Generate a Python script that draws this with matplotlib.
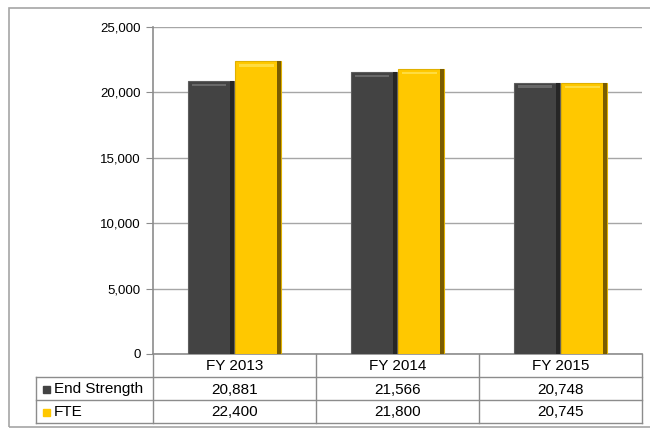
import numpy as np
import matplotlib.pyplot as plt
import matplotlib.transforms as mtransforms
from matplotlib.patches import Rectangle

plt.rcParams['font.family'] = ['Liberation Sans', 'DejaVu Sans']

# data
categories = ['FY 2013', 'FY 2014', 'FY 2015']
series_names = ['End Strength', 'FTE']
end_strength = [20881, 21566, 20748]
fte = [22400, 21800, 20745]
table_text = [['20,881', '21,566', '20,748'],
              ['22,400', '21,800', '20,745']]

dark = '#434343'
gold = '#FFC800'
line_col = '#8c8c8c'

W, H = 650, 428
fig = plt.figure(figsize=(W / 100, H / 100), dpi=100)
fig.patch.set_facecolor('white')
# outer frame
fig.patches.append(Rectangle((9 / W, 1 - 427 / H), 1, 419 / H, transform=fig.transFigure,
                             fill=False, edgecolor='#a6a6a6', lw=1.2))

ax = fig.add_axes([153 / W, 1 - 354 / H, (642 - 153) / W, (354 - 27) / H])

x = np.arange(len(categories))
bw = 0.28
off = 0.145
ax.bar(x - off, end_strength, bw, color=dark, edgecolor='#5e5e5e', lw=0.8, zorder=3)
ax.bar(x + off, fte, bw, color=gold, edgecolor='#e0b000', lw=0.8, zorder=3)
# bevel: dark right edge and a light band near the top
ax.bar(x - off + bw / 2 - 0.012, end_strength, 0.024, color='#262626', lw=0, zorder=4)
ax.bar(x + off + bw / 2 - 0.012, fte, 0.024, color='#7a5c00', lw=0, zorder=4)
ax.bar(x - off - 0.01, [200] * 3, bw - 0.07,
       bottom=[v - 420 for v in end_strength], color='#686868', lw=0, zorder=4)
ax.bar(x + off - 0.01, [200] * 3, bw - 0.07,
       bottom=[v - 420 for v in fte], color='#ffdc40', lw=0, zorder=4)

ax.set_xlim(-0.5, 2.5)
ax.set_ylim(0, 25000)
ax.set_yticks(np.arange(0, 25001, 5000))
ax.set_yticklabels([f'{v:,}' for v in range(0, 25001, 5000)])
ax.set_xticks([])
ax.yaxis.grid(True, color='#a6a6a6', lw=1)
ax.set_axisbelow(True)
for s in ['top', 'right']:
    ax.spines[s].set_visible(False)
for s in ['left', 'bottom']:
    ax.spines[s].set_color(line_col)
    ax.spines[s].set_linewidth(1.2)
ax.tick_params(axis='y', length=5, color=line_col, labelsize=9.5, pad=4)

# data table under the chart
tr = mtransforms.blended_transform_factory(ax.transData, ax.transAxes)
ph = 354 - 27
def yf(py):
    return (354 - py) / ph
def xd(px):
    return -0.5 + (px - 153) / 163.0

lk = dict(transform=tr, color=line_col, lw=1, clip_on=False)
for py in [377, 400, 423]:
    ax.plot([xd(36), 2.5], [yf(py), yf(py)], **lk)
ax.plot([xd(36), xd(36)], [yf(377), yf(423)], **lk)
for xb in [-0.5, 0.5, 1.5, 2.5]:
    ax.plot([xb, xb], [0, yf(423)], **lk)

fs = 11
for i, c in enumerate(categories):
    ax.text(i, yf(366.5), c, transform=tr, ha='center', va='center', fontsize=fs)
    for r in range(2):
        ax.text(i, yf(389.5 + 23 * r), table_text[r][i], transform=tr,
                ha='center', va='center', fontsize=fs)

for r, (name, col) in enumerate(zip(series_names, [dark, gold])):
    yc = yf(389 + 23 * r)
    ax.add_patch(Rectangle((xd(43), yc - 3.5 / ph), 7 / 163.0, 7 / ph, transform=tr,
                           color=col, clip_on=False))
    ax.text(xd(54), yf(389.5 + 23 * r), name, transform=tr, ha='left', va='center',
            fontsize=fs)

fig.savefig('out.png', dpi=100)
